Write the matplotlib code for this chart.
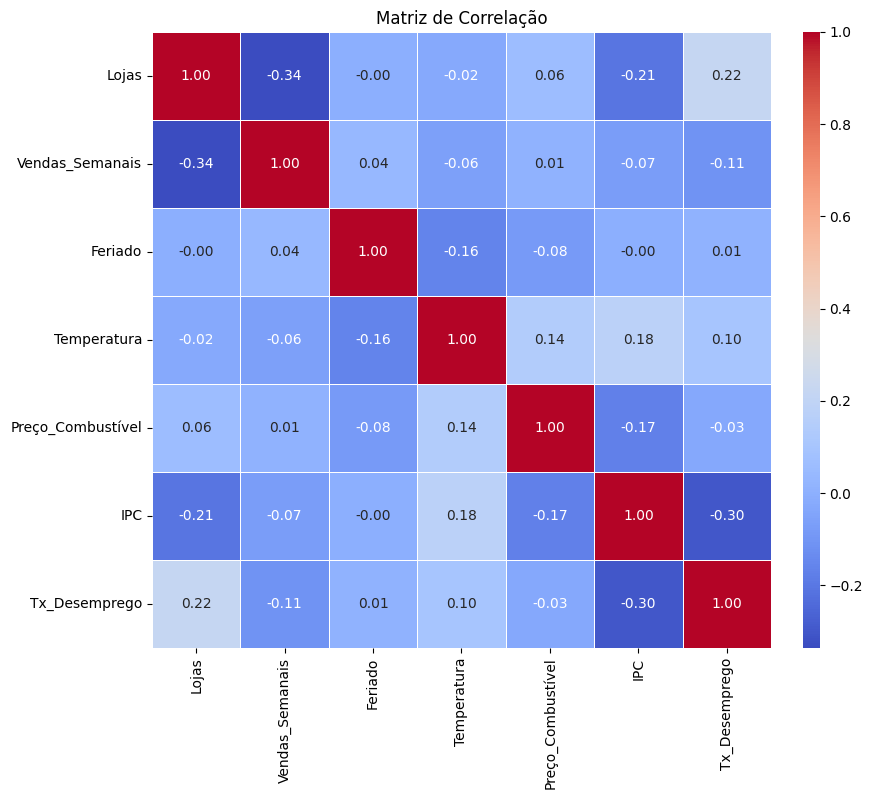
import numpy as np
import pandas as pd
import matplotlib
matplotlib.use("Agg")
import matplotlib.pyplot as plt
import seaborn as sns

labels = ["Lojas", "Vendas_Semanais", "Feriado", "Temperatura",
          "Preço_Combustível", "IPC", "Tx_Desemprego"]

row_lojas = [1.00, -0.3355, -0.003, -0.0249, 0.06, -0.21, 0.22]
row_vendas = [-0.3355, 1.00, 0.04, -0.06, 0.01, -0.07, -0.11]
row_feriado = [-0.003, 0.04, 1.00, -0.16, -0.08, -0.002, 0.01]
row_temp = [-0.0249, -0.06, -0.16, 1.00, 0.14, 0.18, 0.10]
row_comb = [0.06, 0.01, -0.08, 0.14, 1.00, -0.17, -0.03]
row_ipc = [-0.21, -0.07, -0.002, 0.18, -0.17, 1.00, -0.30]
row_desemp = [0.22, -0.11, 0.01, 0.10, -0.03, -0.30, 1.00]

corr = pd.DataFrame([row_lojas, row_vendas, row_feriado, row_temp,
                     row_comb, row_ipc, row_desemp],
                    index=labels, columns=labels)

fig = plt.figure(figsize=(8.94, 7.99), dpi=100)
ax = fig.add_axes([0.170, 0.189, 0.6924, 0.771])
cax = fig.add_axes([0.898, 0.189, 0.019, 0.771])
sns.heatmap(corr, annot=True, fmt=".2f", cmap="coolwarm", linewidths=0.5,
            ax=ax, cbar_ax=cax)
# text colour: light text on all cells clearly below zero
for t in ax.texts:
    try:
        if float(t.get_text()) <= -0.02:
            t.set_color("w")
    except ValueError:
        pass
ax.set_title("Matriz de Correlação")
fig.savefig("out.png", dpi=100)
